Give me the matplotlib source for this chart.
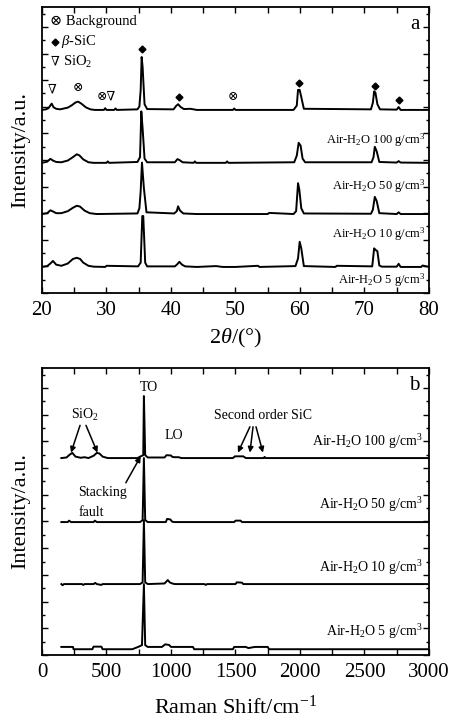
import matplotlib
matplotlib.use('Agg')
import matplotlib.pyplot as plt
from matplotlib.ticker import MultipleLocator, NullFormatter

plt.rcParams['font.family'] = ['Liberation Serif', 'DejaVu Serif']
plt.rcParams['mathtext.fontset'] = 'custom'
plt.rcParams['mathtext.rm'] = 'Liberation Serif'
plt.rcParams['mathtext.it'] = 'Liberation Serif:italic'
plt.rcParams['mathtext.bf'] = 'Liberation Serif:bold'
SYM = ['Liberation Serif', 'DejaVu Serif', 'DejaVu Sans']

# ---- XRD data (a): points relative to each trace baseline ----
xrd_labels = ['Air-H$_2$O 100 g/cm$^3$', 'Air-H$_2$O 50 g/cm$^3$',
              'Air-H$_2$O 10 g/cm$^3$', 'Air-H$_2$O 5 g/cm$^3$']
xrd_offsets = [64.0, 45.5, 27.6, 9.1]

xrd1_x = [20, 20.6, 21.0, 21.5, 21.8, 22.2, 22.8, 23.4, 24.0, 24.6, 25.2, 25.6, 26.1, 26.8, 27.5,
          28.2, 29.6, 29.8, 30.0, 31.2, 31.4, 31.6, 34.8, 35.1, 35.3, 35.45, 35.6, 35.9, 36.3,
          40.4, 40.8, 41.1, 41.5, 42.0, 43.0, 44.0, 49.6, 49.8, 50.0, 59.0, 59.5, 59.7, 59.95,
          60.2, 60.6, 71.0, 71.3, 71.5, 71.7, 72.0, 72.4, 75.0, 75.3, 75.6, 80]
xrd1_y = [0, 0.2, 0.6, 2.2, 0.9, 0.4, 0.2, 0.5, 0.8, 1.6, 2.6, 2.9, 2.2, 0.9, 0.2,
          0, 0, 0.6, 0, 0, 0.5, 0, 0.2, 1.2, 7.0, 18.5, 15.0, 2.0, 0.3,
          0.2, 1.4, 2.0, 1.0, 0.3, 0.4, 0, 0, 0.5, 0, 0, 1.5, 7.0, 7.0,
          4.5, 0.4, 0.2, 2.5, 6.5, 6.0, 2.0, 0.2, 0.1, 1.0, 0, 0]

xrd2_x = [20, 20.8, 21.3, 21.7, 22.2, 23.0, 24.0, 24.8, 25.4, 25.8, 26.4, 27.2, 28.0, 30.0, 30.2,
          30.4, 34.8, 35.2, 35.4, 35.6, 35.9, 36.3, 40.6, 41.0, 41.3, 41.8, 43.5, 43.7, 43.9,
          48.5, 48.7, 48.9, 59.1, 59.5, 59.8, 60.1, 60.4, 60.8, 71.1, 71.4, 71.6, 71.9, 72.3,
          75.0, 75.3, 75.6, 80]
xrd2_y = [0, 0.4, 1.4, 0.8, 0.3, 0.2, 0.8, 2.0, 3.0, 2.6, 1.2, 0.2, 0, 0, 0.5,
          0, 0.3, 2.0, 18.0, 12.0, 1.5, 0.2, 0.2, 1.3, 1.0, 0.2, 0, 0.5, 0,
          0, 0.5, 0, 0.2, 2.5, 7.0, 6.0, 1.5, 0.2, 0.2, 2.0, 5.6, 4.0, 0.3,
          0.1, 0.6, 0.1, 0]

xrd3_x = [20, 20.8, 21.3, 21.7, 22.2, 23.0, 24.0, 24.8, 25.4, 25.9, 26.6, 27.4, 28.5, 34.8,
          35.1, 35.3, 35.5, 35.8, 36.2, 40.5, 40.9, 41.1, 41.4, 41.9, 44.0, 55.0, 55.2,
          59.0, 59.4, 59.7, 59.9, 60.2, 60.6, 71.0, 71.3, 71.6, 71.9, 72.3, 75.0, 75.3,
          75.6, 80]
xrd3_y = [0, 0.3, 1.3, 0.9, 0.3, 0.3, 1.0, 2.2, 2.9, 2.6, 1.2, 0.3, 0, 0.2,
          2.0, 8.0, 18.0, 9.0, 0.6, 0.2, 1.0, 2.7, 1.2, 0.2, 0, 0, 0.4,
          0, 1.0, 10.8, 8.5, 2.0, 0.2, 0.1, 1.5, 6.0, 4.5, 0.3, 0, 0.6,
          0, 0]

xrd4_x = [20, 20.8, 21.3, 21.7, 22.2, 23.0, 24.0, 24.8, 25.4, 25.9, 26.4, 27.2, 28.0,
          29.8, 30.0, 34.9, 35.3, 35.55, 35.7, 36.0, 36.3, 40.6, 41.0, 41.3, 41.7, 42.2,
          44.0, 47.0, 48.0, 50.0, 53.5, 53.7, 59.3, 59.7, 59.95, 60.2, 60.6, 65.5, 65.7,
          71.2, 71.5, 71.7, 72.0, 72.3, 72.7, 75.0, 75.3, 75.6, 78.8, 79.0, 80]
xrd4_y = [0, 0.3, 1.2, 2.1, 0.8, 0.4, 1.2, 2.8, 3.2, 2.8, 1.5, 0.4, 0.1,
          0, 0.4, 0.2, 1.5, 17.8, 17.8, 1.5, 0.2, 0.2, 1.0, 1.8, 0.8, 0.2,
          0, 0.3, 0, 0, 0.4, 0, 0.3, 3.0, 8.8, 6.5, 0.3, 0, 0.4,
          0.2, 6.5, 6.0, 5.5, 0.5, 0.1, 0.1, 1.1, 0, 0, 0.5, 0]

xrd_x = [xrd1_x, xrd2_x, xrd3_x, xrd4_x]
xrd_y = [xrd1_y, xrd2_y, xrd3_y, xrd4_y]
xrd_label_y = [53.5, 37.5, 20.5, 4.5]

# ---- Raman data (b) ----
raman_labels = ['Air-H$_2$O 100 g/cm$^3$', 'Air-H$_2$O 50 g/cm$^3$',
                'Air-H$_2$O 10 g/cm$^3$', 'Air-H$_2$O 5 g/cm$^3$']
raman_offsets = [68.6, 46.3, 24.7, 2.4]

ram1_x = [150, 190, 215, 235, 260, 300, 330, 360, 400, 425, 445, 470, 510, 740, 765, 785, 790,
          800, 820, 950, 965, 1000, 1010, 1030, 1060, 1080, 1480, 1495, 1560, 1580, 1720,
          1725, 1735, 3000]
ram1_y = [0, 0.2, 1.2, 1.8, 0.5, 0.1, 0.3, 0, 0.8, 1.8, 1.6, 0.5, 0, 0, 0.6, 1.0, 21.6,
          1.0, 0.2, 0.2, 1.0, 0.9, 0.4, 0.3, 0.3, 0, 0, 0.6, 0.6, 0, 0,
          0.4, 0, 0]

ram2_x = [150, 200, 210, 225, 400, 410, 425, 760, 780, 790, 800, 820, 960, 970, 995, 1010,
          1030, 1490, 1500, 1540, 1550, 3000]
ram2_y = [0, 0, 0.5, 0, 0, 0.5, 0, 0, 0.7, 22.3, 0.7, 0, 0, 1.1, 0.9, 0.1,
          0, 0, 0.5, 0.5, 0, 0]

ram3_x = [150, 160, 170, 310, 320, 330, 400, 412, 425, 460, 470, 760, 780, 790, 800, 820,
          950, 975, 990, 1010, 1030, 1260, 1270, 1280, 1500, 1510, 1550, 1560, 3000]
ram3_y = [0, -0.4, 0, 0, -0.3, 0, 0, 0.4, 0, -0.3, 0, 0, 0.6, 22.3, 0.6, 0,
          0.2, 1.4, 0.6, 0.2, 0, 0, -0.3, 0, 0, 0.6, 0.5, 0, 0]

ram4_x = [150, 240, 245, 390, 400, 460, 470, 700, 740, 775, 790, 800, 820, 930, 955, 985,
          1000, 1170, 1180, 1480, 1490, 1580, 1600, 1650, 1700, 1750, 1760, 3000]
ram4_y = [0.4, 0.4, -0.4, -0.4, 0.5, 0.5, -0.4, -0.4, 0.3, 1.0, 22.3, 1.0, 0.4, 0.4, 1.3,
          1.1, 0.4, 0.4, -0.4, -0.4, 0.4, 0.4, 0, 0.4, 0.4, 0.4, -0.4, -0.4]

raman_x = [ram1_x, ram2_x, ram3_x, ram4_x]
raman_y = [ram1_y, ram2_y, ram3_y, ram4_y]
raman_label_y = [74.5, 52.5, 30.5, 8.0]

fig = plt.figure(figsize=(4.55, 7.25), dpi=100)
ax1 = fig.add_axes([0.0923, 0.5959, 0.8505, 0.3945])
ax2 = fig.add_axes([0.0923, 0.0966, 0.8505, 0.3959])

for ax in (ax1, ax2):
    ax.tick_params(which='both', direction='in', top=True, right=True, labelsize=15, pad=6,
                   width=1.0)
    ax.tick_params(which='major', length=4.5)
    ax.tick_params(which='minor', length=4.5)
    ax.yaxis.set_major_formatter(NullFormatter())
    ax.set_ylim(0, 100)
    ax.yaxis.set_major_locator(MultipleLocator(9.3))
    ax.yaxis.set_minor_locator(MultipleLocator(4.65))
    ax.tick_params(axis='y', which='minor', length=2.5)
    for s in ax.spines.values():
        s.set_linewidth(1.3)

# ---- panel a ----
for xs, ys, off, lab, ly in zip(xrd_x, xrd_y, xrd_offsets, xrd_labels, xrd_label_y):
    ax1.plot(xs, [v + off for v in ys], color='black', lw=1.4)
    ax1.text(79.5, ly, lab, ha='right', va='center', fontsize=9)
ax1.set_xlim(20, 80)
ax1.xaxis.set_major_locator(MultipleLocator(10))
ax1.xaxis.set_minor_locator(MultipleLocator(5))
ax1.set_xlabel(r'2$\it{\theta}$/(°)', fontsize=16)
ax1.xaxis.set_label_coords(0.5, -0.12)
ax1.set_ylabel('Intensity/a.u.', fontsize=16)
ax1.yaxis.set_label_coords(-0.03, 0.5)
ax1.text(0.975, 0.94, 'a', transform=ax1.transAxes, ha='right', va='center', fontsize=15)

ax1.text(21.2, 94.8, '⊗ Background', fontsize=10.5, va='center', family=SYM)
ax1.plot([22.0], [87.8], marker='D', ms=3.5, color='black')
ax1.text(23.0, 87.8, r'$\it{\beta}$-SiC', fontsize=10.5, va='center')
ax1.text(21.4, 80.8, '∇', fontsize=9, va='center', family=SYM)
ax1.text(23.2, 80.8, 'SiO$_2$', fontsize=10.5, va='center')

dia_x = [35.5, 41.2, 59.9, 71.6, 75.3]
dia_y = [85.3, 68.5, 73.4, 72.4, 67.5]
ax1.plot(dia_x, dia_y, 'D', ms=3.5, color='black', ls='none')
sym_x = [21.5, 25.5, 30.0, 49.6]
sym_t = ['∇', '⊗', '⊗∇', '⊗']
sym_y = [71.0, 71.5, 68.5, 68.5]
for sx, sy, st in zip(sym_x, sym_y, sym_t):
    ax1.text(sx, sy, st, ha='center', va='center', fontsize=9, family=SYM)

# ---- panel b ----
for xs, ys, off, lab, ly in zip(raman_x, raman_y, raman_offsets, raman_labels, raman_label_y):
    ax2.plot(xs, [v + off for v in ys], color='black', lw=1.4)
    ax2.text(2950, ly, lab, ha='right', va='center', fontsize=10)
ax2.set_xlim(0, 3000)
ax2.xaxis.set_major_locator(MultipleLocator(500))
ax2.xaxis.set_minor_locator(MultipleLocator(250))
ax2.set_xlabel('Raman Shift/cm$^{-1}$', fontsize=16)
ax2.xaxis.set_label_coords(0.5, -0.14)
ax2.set_ylabel('Intensity/a.u.', fontsize=16)
ax2.yaxis.set_label_coords(-0.03, 0.5)
ax2.text(0.975, 0.94, 'b', transform=ax2.transAxes, ha='right', va='center', fontsize=15)

ax2.text(830, 93.2, 'TO', ha='center', va='center', fontsize=10)
ax2.text(1020, 76.5, 'LO', ha='center', va='center', fontsize=10)
ax2.text(335, 83.5, 'SiO$_2$', ha='center', va='center', fontsize=10)
ax2.text(1710, 83.5, 'Second order SiC', ha='center', va='center', fontsize=10)
ax2.text(470, 56.5, 'Stacking', ha='center', va='center', fontsize=10)
ax2.text(380, 49.5, 'fault', ha='center', va='center', fontsize=10)

arrow_from = [(295, 80.0), (341, 80.0), (1612, 79.5), (1636, 79.5), (1659, 79.5), (650, 60.0)]
arrow_to = [(225, 70.5), (430, 70.5), (1519, 70.5), (1612, 70.5), (1713, 70.5), (765, 69.2)]
for (x0, y0), (x1, y1) in zip(arrow_from, arrow_to):
    ax2.annotate('', xy=(x1, y1), xytext=(x0, y0),
                 arrowprops=dict(arrowstyle='-|>', color='black', lw=1.1,
                                 mutation_scale=8, shrinkA=0, shrinkB=0))

plt.savefig('out.png', dpi=100)
